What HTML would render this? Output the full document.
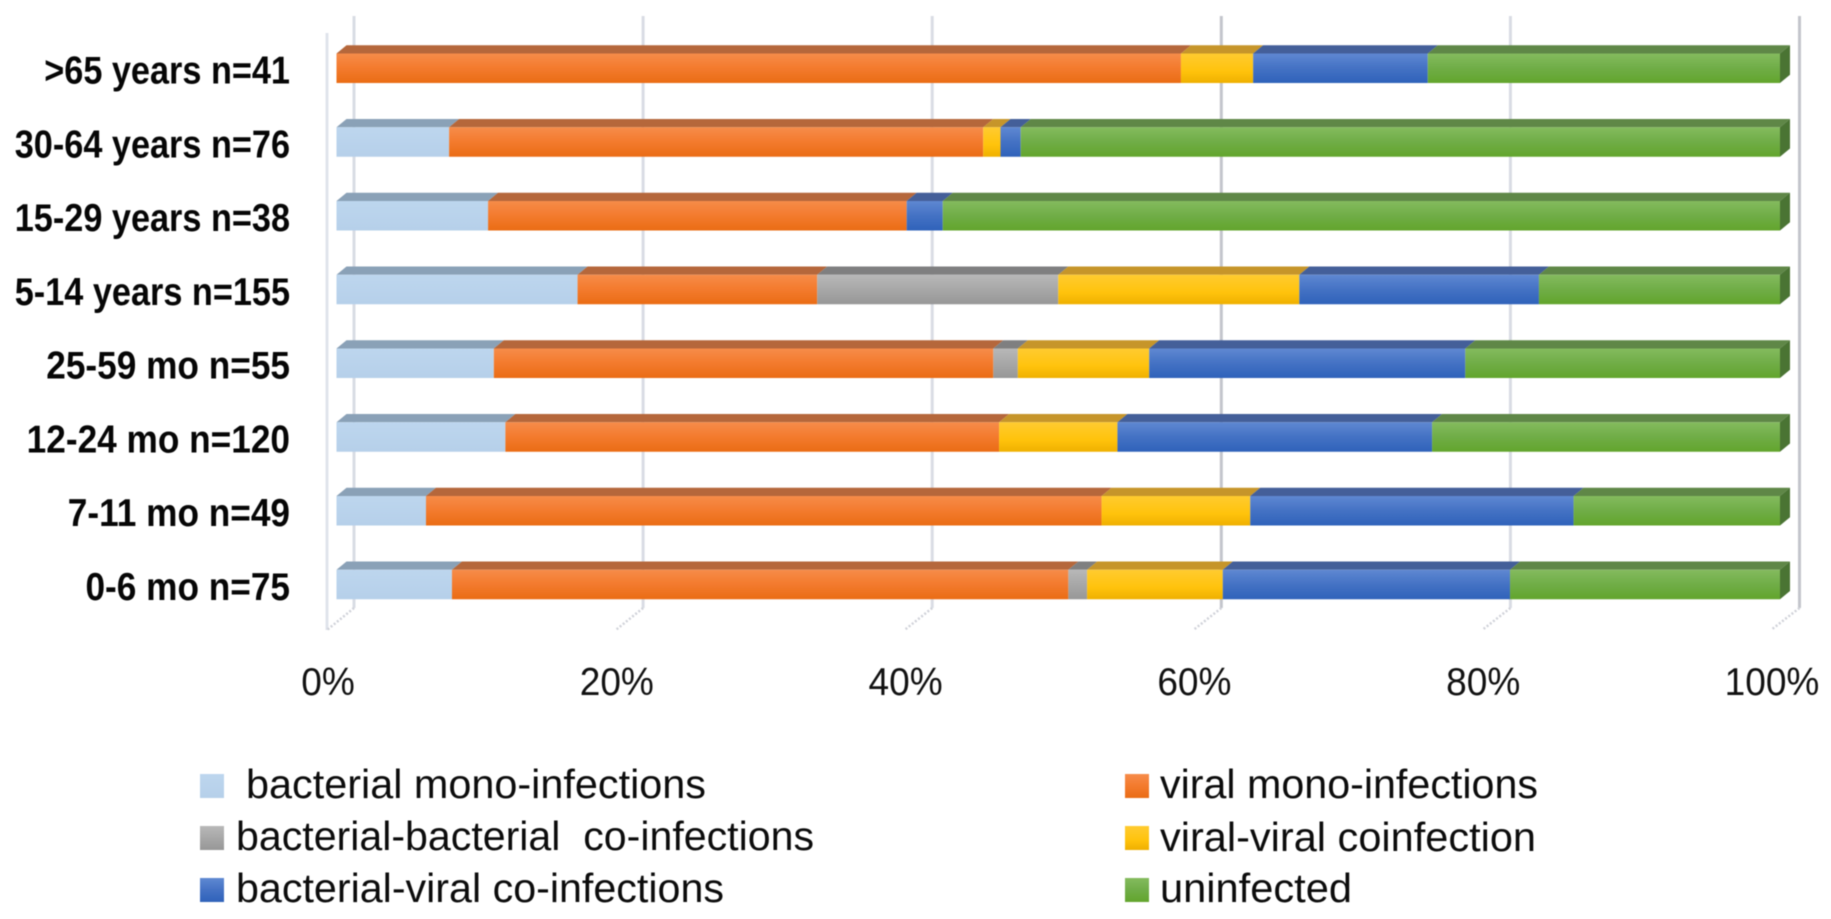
<!DOCTYPE html>
<html lang="en">
<head>
<meta charset="utf-8">
<title>Infection types by age group</title>
<style>
  html, body { margin: 0; padding: 0; background: #ffffff; }
  body { width: 1831px; height: 919px; overflow: hidden; }
  svg { display: block; font-family: "Liberation Sans", sans-serif; filter: blur(0.5px); }
  .cat { font-weight: 700; font-size: 38.5px; fill: #060606; }
  .tick { font-size: 39px; fill: #111111; }
  .leg { font-size: 41px; fill: #0c0c0c; }
</style>
</head>
<body>
<svg id="chart" width="1831" height="919" viewBox="0 0 1831 919" xmlns="http://www.w3.org/2000/svg">
  <defs>
    <linearGradient id="g-light" x1="0" y1="0" x2="0" y2="1"><stop offset="0" stop-color="#bdd6ee"/><stop offset="1" stop-color="#b6d0ea"/></linearGradient>
    <linearGradient id="g-orange" x1="0" y1="0" x2="0" y2="1"><stop offset="0" stop-color="#f68c4a"/><stop offset="0.45" stop-color="#f47c30"/><stop offset="1" stop-color="#ea6c14"/></linearGradient>
    <linearGradient id="g-grey" x1="0" y1="0" x2="0" y2="1"><stop offset="0" stop-color="#b8b8b8"/><stop offset="1" stop-color="#979797"/></linearGradient>
    <linearGradient id="g-yellow" x1="0" y1="0" x2="0" y2="1"><stop offset="0" stop-color="#ffcb30"/><stop offset="0.6" stop-color="#ffc30c"/><stop offset="1" stop-color="#efb000"/></linearGradient>
    <linearGradient id="g-blue" x1="0" y1="0" x2="0" y2="1"><stop offset="0" stop-color="#5f88d2"/><stop offset="0.5" stop-color="#4472c4"/><stop offset="1" stop-color="#2f62ba"/></linearGradient>
    <linearGradient id="g-green" x1="0" y1="0" x2="0" y2="1"><stop offset="0" stop-color="#84bb5e"/><stop offset="0.5" stop-color="#70ad47"/><stop offset="1" stop-color="#62a52c"/></linearGradient>
  </defs>
  <g id="grid"></g>
  <g id="bars"></g>
  <g id="cats"></g>
  <g id="ticks"></g>

  <g>
    <rect x="200" y="774" width="24" height="24" fill="url(#g-light)"/>
    <text class="leg" x="246" y="798" textLength="460" lengthAdjust="spacingAndGlyphs">bacterial mono-infections</text>
    <rect x="200" y="826" width="24" height="24" fill="url(#g-grey)"/>
    <text class="leg" x="236" y="850" textLength="578" lengthAdjust="spacingAndGlyphs" xml:space="preserve">bacterial-bacterial  co-infections</text>
    <rect x="200" y="878" width="24" height="24" fill="url(#g-blue)"/>
    <text class="leg" x="236" y="902" textLength="488" lengthAdjust="spacingAndGlyphs">bacterial-viral co-infections</text>
    <rect x="1125" y="774" width="24" height="24" fill="url(#g-orange)"/>
    <text class="leg" x="1160" y="798" textLength="378" lengthAdjust="spacingAndGlyphs">viral mono-infections</text>
    <rect x="1125" y="826" width="24" height="24" fill="url(#g-yellow)"/>
    <text class="leg" x="1160" y="851" textLength="376" lengthAdjust="spacingAndGlyphs">viral-viral coinfection</text>
    <rect x="1125" y="878" width="24" height="24" fill="url(#g-green)"/>
    <text class="leg" x="1160" y="902" textLength="192" lengthAdjust="spacingAndGlyphs">uninfected</text>
  </g>
</svg>

<script>
const categories = ['>65 years n=41', '30-64 years n=76', '15-29 years n=38', '5-14 years n=155', '25-59 mo n=55', '12-24 mo n=120', '7-11 mo n=49', '0-6 mo n=75'];
const bacterialMono = [0, 7.8, 10.5, 16.7, 10.9, 11.7, 6.2, 8.0];
const viralMono = [58.5, 37.0, 29.0, 16.6, 34.6, 34.2, 46.8, 42.7];
const bacterialBacterial = [0, 0, 0, 16.7, 1.7, 0, 0, 1.3];
const viralViral = [5.0, 1.2, 0, 16.7, 9.1, 8.2, 10.3, 9.4];
const bacterialViral = [12.1, 1.4, 2.5, 16.6, 21.9, 21.8, 22.4, 19.9];
const uninfected = [24.4, 52.6, 58.0, 16.7, 21.8, 24.1, 14.3, 18.7];
const xTicks = [0, 20, 40, 60, 80, 100];
const xTickLabels = ['0%', '20%', '40%', '60%', '80%', '100%'];

const NS = 'http://www.w3.org/2000/svg';
const DEPTH_X = 10;
const DEPTH_Y = 8.3;
const BAR_H = 29.5;
const serieses = [
  { key: 'bacterial-mono', values: bacterialMono, fill: 'url(#g-light)', top: '#8aa1b7' },
  { key: 'viral-mono', values: viralMono, fill: 'url(#g-orange)', top: '#b5673b' },
  { key: 'bacterial-bacterial', values: bacterialBacterial, fill: 'url(#g-grey)', top: '#7f7f80' },
  { key: 'viral-viral', values: viralViral, fill: 'url(#g-yellow)', top: '#c6952a' },
  { key: 'bacterial-viral', values: bacterialViral, fill: 'url(#g-blue)', top: '#445f99' },
  { key: 'uninfected', values: uninfected, fill: 'url(#g-green)', top: '#5f8747' }
];

function xFront(p) { return 336.5 + p * 14.435; }
function xBack(p) { return 354 + p * 14.455; }
function xFloor(p) { return 327 + p * 14.44; }
function yBarBottom(i) { return 83 + i * 73.75; }

function make(tag, attrs, parent) {
  const el = document.createElementNS(NS, tag);
  for (const k in attrs) el.setAttribute(k, attrs[k]);
  parent.appendChild(el);
  return el;
}

const gridG = document.getElementById('grid');
const barsG = document.getElementById('bars');
const catsG = document.getElementById('cats');
const ticksG = document.getElementById('ticks');

const wall = make('line', { x1: xFloor(0), y1: 33, x2: xFloor(0), y2: 630, stroke: '#e0e4ec', 'stroke-width': 3 }, gridG);



xTicks.forEach(function (t, idx) {
  const line = make('line', { x1: xBack(t), y1: 16, x2: xBack(t), y2: 608, stroke: idx === 3 || idx === 5 ? '#c3c5cc' : '#d9dce4', 'stroke-width': 3 }, gridG);
  
  
  const floor = make('line', { x1: xBack(t), y1: 608, x2: xFloor(t), y2: 630, stroke: '#d0d2d9', 'stroke-width': 2.5, 'stroke-dasharray': '2 2' }, gridG);
  
  
  const label = make('text', { class: 'tick', 'text-anchor': 'middle', transform: 'translate(' + (xFloor(t) + 1) + ',695) scale(0.95,1)' }, ticksG);
  label.textContent = xTickLabels[idx];
  
  
});

categories.forEach(function (cat, i) {
  const yb = yBarBottom(i);
  const yt = yb - BAR_H;
  const sx = cat.indexOf(' mo ') >= 0 ? 0.915 : 0.89;
  const label = make('text', { class: 'cat', 'text-anchor': 'end', transform: 'translate(290,' + (yb + 0.7) + ') scale(' + sx + ',1)' }, catsG);
  label.textContent = cat;
  
  

  let acc = 0;
  serieses.forEach(function (s) {
    const v = s.values[i];
    if (v <= 0) return;
    const x0 = xFront(acc);
    const x1 = xFront(acc + v);
    const top = make('polygon', {
      points: [x0, yt, x0 + DEPTH_X, yt - DEPTH_Y, x1 + DEPTH_X, yt - DEPTH_Y, x1, yt].join(' '),
      fill: s.top
    }, barsG);
    
    
    const front = make('rect', { x: x0, y: yt, width: x1 - x0, height: BAR_H, fill: s.fill }, barsG);
    
    
    acc += v;
  });
  const xe = xFront(acc);
  const side = make('polygon', {
    points: [xe, yt, xe + DEPTH_X, yt - DEPTH_Y, xe + DEPTH_X, yb - DEPTH_Y, xe, yb].join(' '),
    fill: '#4a7433'
  }, barsG);
  
  
});
</script>
</body>
</html>
